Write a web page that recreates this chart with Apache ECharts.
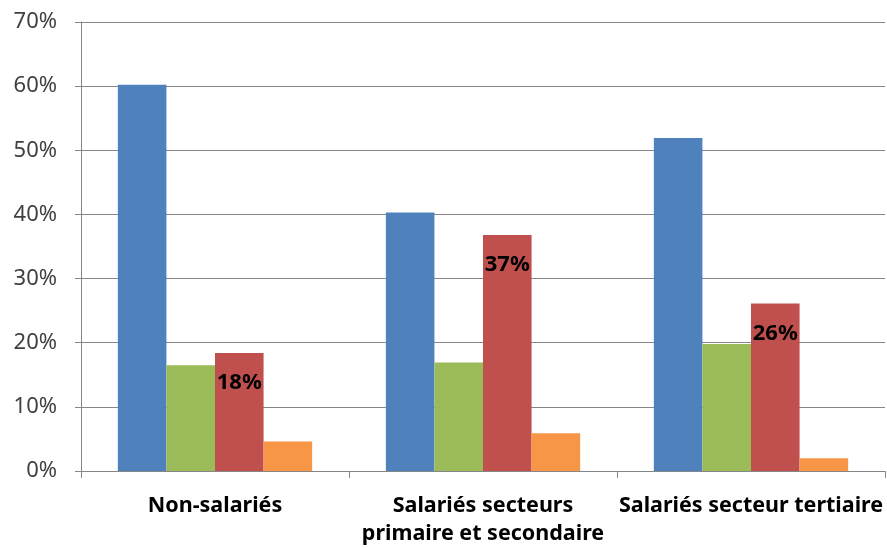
<!DOCTYPE html>
<html>
<head>
<meta charset="utf-8">
<script src="https://cdn.jsdelivr.net/npm/echarts@6/dist/echarts.min.js"></script>
<style>html,body{margin:0;padding:0;background:#fff;}#c{width:887px;height:548px;}</style>
</head>
<body>
<div id="c"></div>
<script>
const categories = ["Non-salariés", "Salariés secteurs\nprimaire et secondaire", "Salariés secteur tertiaire"];
const seriesBlue = [60.2, 40.3, 51.9];
const seriesGreen = [16.5, 16.9, 19.8];
const seriesRed = [18.4, 36.8, 26.1];
const seriesOrange = [4.6, 5.9, 2.0];
const yTicks = { min: 0, max: 70, interval: 10 };

const FONT = "'Noto Sans', 'Open Sans', sans-serif";
const chart = echarts.init(document.getElementById('c'));
function bar(name, data, color, label) {
  return {
    name, type: 'bar', data, barGap: '0%', barCategoryGap: '27.5%',
    itemStyle: { color },
    label: label ? {
      show: true, position: 'insideTop', distance: 19,
      formatter: p => Math.round(p.value) + '%',
      color: '#000', fontWeight: 'bold', fontSize: 22, fontFamily: FONT
    } : { show: false },
    animation: false
  };
}
chart.setOption({
  animation: false,
  grid: { left: 81, right: 2, top: 22, bottom: 77, containLabel: false, outerBoundsMode: 'none' },
  xAxis: {
    type: 'category', data: categories,
    axisLine: { lineStyle: { color: '#868686', width: 1 } },
    axisTick: { show: true, length: 7, lineStyle: { color: '#868686' } },
    axisLabel: { interval: 0, color: '#000', fontWeight: 'bold', fontSize: 21.5, fontFamily: FONT, margin: 21, lineHeight: 28 }
  },
  yAxis: {
    type: 'value', min: yTicks.min, max: yTicks.max, interval: yTicks.interval,
    axisLine: { show: true, lineStyle: { color: '#868686', width: 1 } },
    axisTick: { show: true, length: 6, lineStyle: { color: '#868686' } },
    splitLine: { lineStyle: { color: '#868686', width: 1 } },
    axisLabel: { formatter: '{value}%', color: '#404040', fontSize: 22, fontFamily: FONT, margin: 24 }
  },
  series: [
    bar('Série 1', seriesBlue, '#4F81BD', false),
    bar('Série 2', seriesGreen, '#9BBB59', false),
    bar('Série 3', seriesRed, '#C0504D', true),
    bar('Série 4', seriesOrange, '#F79646', false)
  ]
});
</script>
</body>
</html>
